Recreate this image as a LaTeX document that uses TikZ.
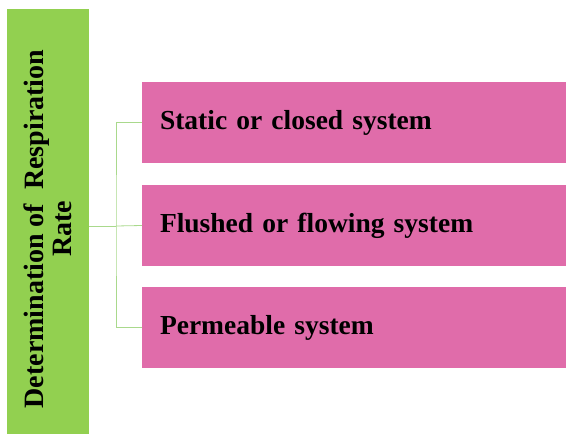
\documentclass[tikz,border=0pt]{standalone}
\usepackage{fontspec}
\setmainfont{Liberation Serif}
\definecolor{bargreen}{HTML}{92D050}
\definecolor{linegreen}{HTML}{A9D98C}
\definecolor{boxpink}{HTML}{E06CAA}
\begin{document}
\begin{tikzpicture}[x=1pt, y=-1pt,
        head/.style={rectangle, fill=bargreen, minimum width=82pt, minimum height=425pt, inner sep=0pt},
        system/.style={rectangle, fill=boxpink, minimum width=424pt, minimum height=81pt, text width=388pt, inner xsep=18pt, align=left, font=\bfseries\fontsize{27.5}{31}\selectfont},
        link/.style={draw=linegreen, line width=0.8pt}
    ]
        \useasboundingbox (0,0) rectangle (566,434);
        \node[head] (rate) at (48,221.5) {};
        \node[rotate=90, align=center, font=\bfseries\fontsize{28}{28}\selectfont] (title) at (48,229) {Determination of\ \ Respiration\\Rate};
        \node[system] (static) at (354,122.5) {Static or closed system};
        \node[system] (flushed) at (354,225.5) {Flushed or flowing system};
        \node[system] (perm) at (354,327.5) {Permeable system};
        \coordinate (split) at (116,226);

        \draw[link] (rate.east |- split) -- (split);
        \draw[link] (static.west) -| (split) |- (perm.west);
        \draw[link] (split) -- (flushed.west);
    \end{tikzpicture}
\end{document}
